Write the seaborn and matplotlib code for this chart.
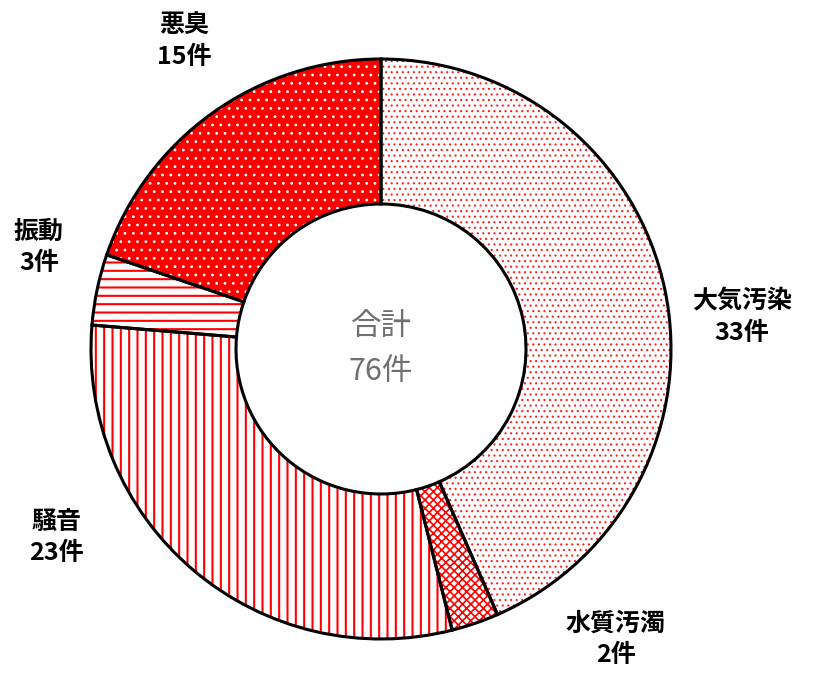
import seaborn as sns
import matplotlib.pyplot as plt

sns.set_theme(style="white")
plt.rcParams["font.family"] = ["Noto Sans CJK JP", "DejaVu Sans"]
plt.rcParams["hatch.linewidth"] = 1.5

# 苦情件数（12時から時計回り）
categories = ["大気汚染", "水質汚濁", "騒音", "振動", "悪臭"]
counts = [33, 2, 23, 3, 15]
total_label = "合計\n76件"

# 塗り・ハッチの設定
faces = ["white", "white", "white", "white", "#ff0000"]
hatch_colors = ["#ff2020", "#ff0000", "#ff0000", "#ff0000", "white"]
hatches = ["...", "xxxx", "||", "--", ".."]
hatch_widths = [0.8, 1.2, 1.5, 1.5, 0.8]

# ラベル位置（データ座標）
label_pos = [(1.245, 0.11), (0.81, -1.0), (-1.12, -0.65), (-1.18, 0.35), (-0.68, 1.06)]

fig = plt.figure(figsize=(8.21, 6.78), dpi=100)
ax = fig.add_axes([91 / 821, 39 / 678, 580 / 821, 580 / 678])

wedges, _ = ax.pie(counts, startangle=90, counterclock=False, radius=1,
                   wedgeprops=dict(width=0.5, linewidth=0))
for w, fc, hc, h, hw in zip(wedges, faces, hatch_colors, hatches, hatch_widths):
    w.set_facecolor(fc)
    w.set_edgecolor(hc)
    w.set_hatch(h)
    w._hatch_linewidth = hw

# 黒い輪郭線を上に重ねる
ax.pie(counts, startangle=90, counterclock=False, radius=1,
       colors=["none"] * len(counts),
       wedgeprops=dict(width=0.5, linewidth=2.2, edgecolor="black"))

for name, n, (x, y) in zip(categories, counts, label_pos):
    ax.text(x, y, f"{name}\n{n}件", ha="center", va="center", fontsize=18,
            fontweight="bold", color="black", linespacing=1.4, clip_on=False)

ax.text(0, 0, total_label, ha="center", va="center", fontsize=22,
        color="#707070", linespacing=1.6)

ax.set_xlim(-1, 1)
ax.set_ylim(-1, 1)
ax.set_aspect("equal")
ax.axis("off")

fig.savefig("out.png", dpi=100)
